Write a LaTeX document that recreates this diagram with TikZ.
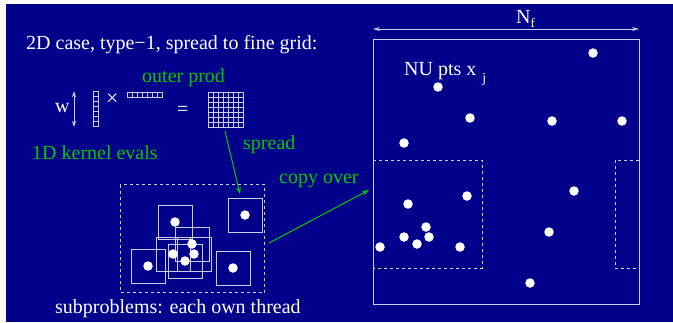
\documentclass[tikz,border=0pt]{standalone}
\usepackage{fontspec}
\setmainfont{Liberation Serif}
\newfontfamily\tfont{Liberation Serif}
\usetikzlibrary{arrows.meta}
\definecolor{navy}{RGB}{0,0,139}
\definecolor{grn}{RGB}{0,200,0}
\definecolor{pale}{RGB}{205,205,235}
\begin{document}
\begin{tikzpicture}[x=1pt,y=-1pt,
  txt/.style={text=white, font=\tfont\fontsize{20}{24}\selectfont, inner sep=0pt, anchor=base west},
  gtxt/.style={txt, text=grn},
  dot/.style={circle, fill=white, inner sep=0pt, minimum size=9.5pt},
  subbox/.style={draw=pale, line width=1pt, minimum size=34pt, inner sep=0pt},
  dsh/.style={draw=pale, line width=1pt, dash pattern=on 3pt off 3pt},
  cell/.style={draw=pale, line width=0.8pt},
  garrow/.style={draw=grn, line width=1pt, -{Stealth[length=7pt,width=5pt]}}]
\fill[white] (0,0) rectangle (673,322);
\fill[navy] (6,4) rectangle (673,322);
\useasboundingbox (0,0) rectangle (673,322);

% texts
\node[txt] (title) at (26,49) {2D case, type−1, spread to fine grid:};
\node[gtxt] (outer) at (142,82) {outer prod};
\node[txt] (w) at (55,112) {w};
\node[gtxt] (kernel) at (32,159) {1D kernel evals};
\node[gtxt] (spread) at (243,149) {spread};
\node[gtxt] (copy) at (279,183) {copy over};
\node[txt] (subp) at (55,313) {subproblems: each own thread};
\node[txt, font=\tfont\fontsize{22}{24}\selectfont] (times) at (106,105) {×};
\node[txt] (eq) at (177,115) {=};

% w arrow
\coordinate (wt) at (74,91);
\coordinate (wb) at (74,127);
\draw[pale, line width=1pt, {Stealth[length=6pt,width=4pt]}-{Stealth[length=6pt,width=4pt]}] (wt) -- (wb);

% vertical vector
\node[cell, anchor=north west, minimum width=5pt, minimum height=35pt, inner sep=0pt] (vvec) at (93,91) {};
\foreach \i in {1,...,6} \draw[cell] (93,91+5*\i) -- (98,91+5*\i);
% horizontal vector
\node[cell, anchor=north west, minimum width=35pt, minimum height=5pt, inner sep=0pt] (hvec) at (127,92) {};
\foreach \i in {1,...,6} \draw[cell] (127+5*\i,92) -- (127+5*\i,97);
% grid
\node[cell, anchor=north west, minimum size=35pt, inner sep=0pt] (grid) at (208,92) {};
\foreach \i in {1,...,6} {
  \draw[cell] (208+5*\i,92) -- (208+5*\i,127);
  \draw[cell] (208,92+5*\i) -- (243,92+5*\i);
}

% subproblem box
\node[dsh, anchor=north west, minimum width=144pt, minimum height=108pt, inner sep=0pt] (sub) at (120,184) {};
\foreach \n/\x/\y in {a/175/222, b/245/215, c/192/244, d/173/254, e/194/254, f/185/261, g/148/266, h/233/268}
  \node[subbox] (s\n) at (\x,\y) {};
\foreach \n/\x/\y in {a/175/222, b/245/215, c/192/244, d/173/254, e/194/254, f/185/261, g/148/266, h/233/268}
  \node[dot] (d\n) at (\x,\y) {};

% fine grid
\node[draw=pale, line width=1pt, anchor=north west, minimum width=266pt, minimum height=265pt, inner sep=0pt] (fine) at (373,39) {};
\coordinate (nfl) at (373,29);
\coordinate (nfr) at (639,29);
\draw[pale, line width=1pt, {Stealth[length=7pt,width=4pt]}-{Stealth[length=7pt,width=4pt]}] (nfl) -- (nfr);
\node[txt] (nf) at (516,23) {N\raisebox{-4pt}{\fontsize{13}{13}\selectfont f}};
\node[txt] (nu) at (404,75) {NU pts x\hspace{6pt}\raisebox{-7pt}{\fontsize{14}{14}\selectfont j}};

\draw[dsh] (373,160) -- (482,160) -- (482,268) -- (373,268);
\draw[dsh] (639,160) -- (615,160) -- (615,268) -- (639,268);

\foreach \x/\y [count=\k] in {593/53, 438/87, 470/118, 552/121, 622/121, 404/143,
  408/204, 467/196, 426/227, 404/237, 429/237, 417/244, 380/247, 460/247,
  574/191, 549/232, 530/283}
  \node[dot] (p\k) at (\x,\y) {};

% green connectors
\coordinate (sp1) at (225,131);
\coordinate (sp2) at (240,194);
\draw[garrow] (sp1) -- (sp2);
\coordinate (cp1) at (269,243);
\coordinate (cp2) at (369,190);
\draw[garrow] (cp1) -- (cp2);
\end{tikzpicture}
\end{document}
